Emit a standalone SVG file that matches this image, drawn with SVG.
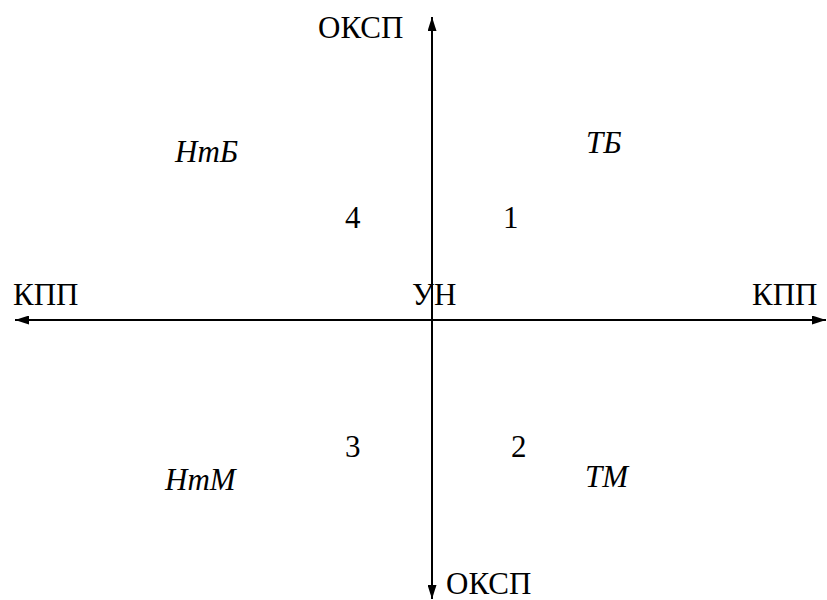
<svg xmlns="http://www.w3.org/2000/svg" width="827" height="600" viewBox="0 0 827 600">
<defs>
<marker id="ah" markerWidth="14" markerHeight="9" refX="14" refY="4.5" orient="auto" markerUnits="userSpaceOnUse">
<path d="M0,0 L14,4.5 L0,9 Z" fill="#000"/>
</marker>
</defs>
<rect width="827" height="600" fill="#fff"/>
<g id="connectors" stroke="#000" stroke-width="2" fill="none">
<line x1="432" y1="320" x2="432" y2="17" marker-end="url(#ah)"/>
<line x1="432" y1="320" x2="432" y2="599" marker-end="url(#ah)"/>
<line x1="432" y1="320" x2="15" y2="320" marker-end="url(#ah)"/>
<line x1="432" y1="320" x2="826" y2="320" marker-end="url(#ah)"/>
</g>
<g id="labels">
<text id="oksp-top" x="318" y="38" font-family="Liberation Serif" font-size="31">ОКСП</text>
<text id="oksp-bottom" x="446" y="594" font-family="Liberation Serif" font-size="31">ОКСП</text>
<text id="kpp-left" x="13" y="305" font-family="Liberation Serif" font-size="31">КПП</text>
<text id="kpp-right" x="752" y="305" font-family="Liberation Serif" font-size="31">КПП</text>
<text id="un" x="412" y="305" font-family="Liberation Serif" font-size="31">УН</text>
<text id="q4" x="345" y="228" font-family="Liberation Serif" font-size="31">4</text>
<text id="q1" x="503" y="228" font-family="Liberation Serif" font-size="31">1</text>
<text id="q3" x="345" y="457" font-family="Liberation Serif" font-size="31">3</text>
<text id="q2" x="511" y="457" font-family="Liberation Serif" font-size="31">2</text>
<text id="ntb" x="175" y="162" font-family="Liberation Serif" font-size="31" font-style="italic">НтБ</text>
<text id="tb" x="586" y="153" font-family="Liberation Serif" font-size="31" font-style="italic">ТБ</text>
<text id="ntm" x="165" y="490" font-family="Liberation Serif" font-size="31" font-style="italic">НтМ</text>
<text id="tm" x="585" y="487" font-family="Liberation Serif" font-size="31" font-style="italic">ТМ</text>
</g>
</svg>
